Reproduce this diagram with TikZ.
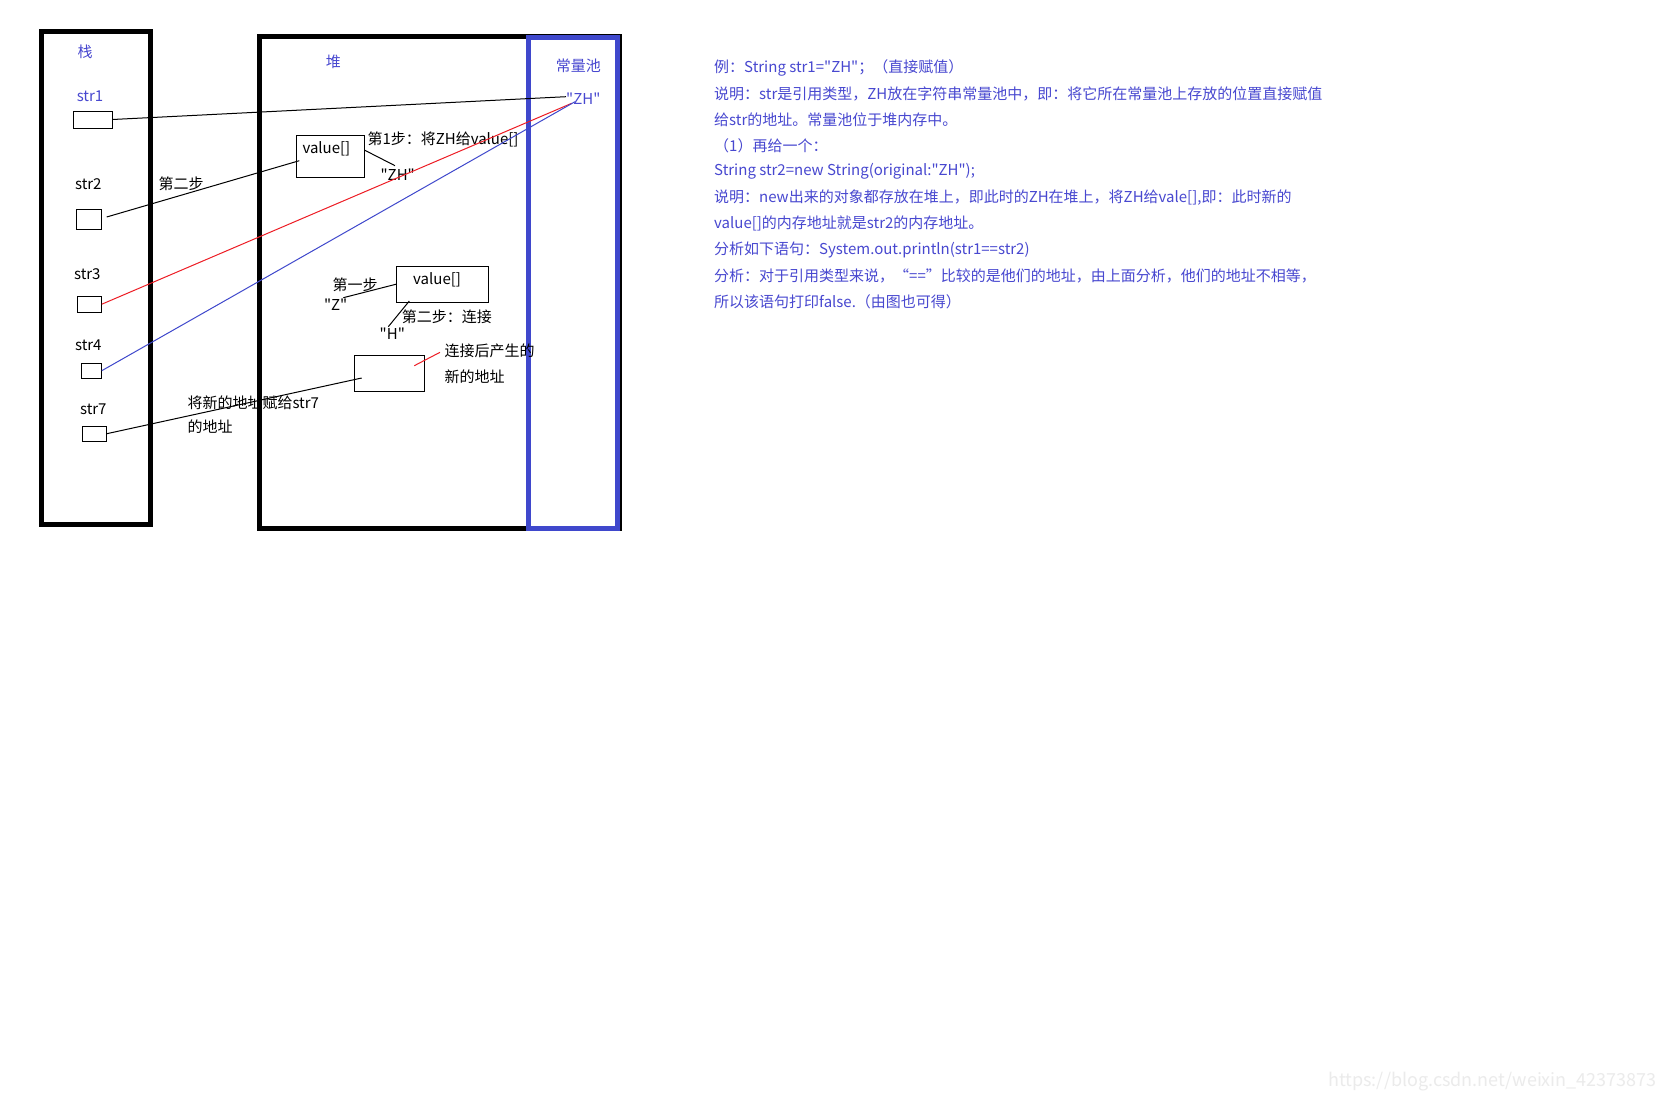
\documentclass[tikz,border=0pt]{standalone}
\usepackage{fontspec}
\setmainfont{Noto Sans CJK SC}[Ligatures=TeXOff]
\definecolor{poolblue}{RGB}{63,72,204}
\definecolor{txtblue}{RGB}{72,72,208}
\definecolor{pred}{RGB}{237,28,36}
\begin{document}
\begin{tikzpicture}[x=1pt,y=-1pt,
  lbl/.style={inner sep=0pt,font=\fontsize{15}{18}\selectfont},
  blbl/.style={lbl,text=txtblue},
  note/.style={inner sep=0pt,anchor=west,text=txtblue,font=\fontsize{15}{18}\selectfont},
  cell/.style={draw,line width=1pt,inner sep=0pt},
  thin/.style={line width=1pt},
  area/.style={draw,line width=5pt}]
\useasboundingbox[fill=white] (0,0) rectangle (1666,1100);
% big areas
\draw[area] (41.5,31.5) rectangle (150,524);
\draw[area] (259,36) rectangle (619,528);
\draw[area,poolblue] (528.5,37) rectangle (617.5,528.5);
% labels
\node[blbl] (zhan) at (85,52) {栈};
\node[blbl] (dui) at (333.3,61.7) {堆};
\node[blbl] (pool) at (578.3,65.7) {常量池};
\node[blbl] (zh) at (583.3,98.7) {"ZH"};
\node[blbl] (s1) at (90,96) {str1};
\node[lbl] (s2) at (88.3,184.3) {str2};
\node[lbl] (s3) at (87.3,274.3) {str3};
\node[lbl] (s4) at (88.3,345) {str4};
\node[lbl] (s7) at (93.3,409) {str7};
% stack cells
\node[cell,minimum width=39pt,minimum height=17pt] (b1) at (92.5,119.5) {};
\node[cell,minimum width=25pt,minimum height=20pt] (b2) at (88.8,219.3) {};
\node[cell,minimum width=24pt,minimum height=16pt] (b3) at (89.3,304.2) {};
\node[cell,minimum width=20pt,minimum height=15pt] (b4) at (91.3,370.7) {};
\node[cell,minimum width=24pt,minimum height=15pt] (b7) at (94.3,433.7) {};
% heap cells
\node[cell,minimum width=68pt,minimum height=42pt] (v1) at (330.2,156.3) {};
\node[lbl,anchor=west] (v1t) at (302.3,149.3) {value[]};
\node[cell,minimum width=92pt,minimum height=36pt] (v2) at (442.7,284.2) {};
\node[lbl,anchor=west] (v2t) at (413,280) {value[]};
\node[cell,minimum width=70pt,minimum height=36pt] (nb) at (389.3,373.3) {};
% heap texts
\node[lbl] (step2a) at (181,184) {第二步};
\node[lbl,anchor=west] (step1) at (367.3,139.3) {第1步：将ZH给value[]};
\node[lbl] (zhb) at (397.7,174.3) {"ZH"};
\node[lbl] (first) at (355,284.3) {第一步};
\node[lbl] (zq) at (335.7,304.3) {"Z"};
\node[lbl,anchor=west] (join) at (401.7,316.7) {第二步：连接};
\node[lbl] (hq) at (392.3,333.3) {"H"};
\node[lbl,anchor=west] (new1) at (444.3,350.7) {连接后产生的};
\node[lbl,anchor=west] (new2) at (444.3,376.7) {新的地址};
\node[lbl,anchor=west] (give1) at (187.3,402.3) {将新的地址赋给str7};
\node[lbl,anchor=west] (give2) at (187.3,426.7) {的地址};
% connector end points
\coordinate (zhL) at (566,96.7);
\coordinate (zhR) at (571.7,103.3);
\coordinate (zhB) at (575,101.7);
\coordinate (b2o) at (106.7,217);
\coordinate (v1in) at (299.3,160.7);
\coordinate (v1o) at (364.3,150);
\coordinate (zhbo) at (395,165.7);
\coordinate (zqo) at (343.3,297.7);
\coordinate (hqo) at (388.3,326.7);
\coordinate (v2b) at (409.3,301);
\coordinate (nbin) at (361.7,378);
\coordinate (nbr) at (414.3,365.7);
\coordinate (newo) at (440,352.3);
% connectors
\draw[thin] (b1.east) -- (zhL);
\draw[thin] (b2o) -- (v1in);
\draw[thin,pred] (b3.east) -- (zhR);
\draw[thin,poolblue] (b4.east) -- (zhB);
\draw[thin] (b7.east) -- (nbin);
\draw[thin] (v1o) -- (zhbo);
\draw[thin] (zqo) -- (v2.west);
\draw[thin] (hqo) -- (v2b);
\draw[thin,pred] (nbr) -- (newo);
% notes
\node[note] (n1) at (714,68.3) {例：String str1="ZH"；（直接赋值）};
\node[note] (n2) at (714,94) {说明：str是引用类型，ZH放在字符串常量池中，即：将它所在常量池上存放的位置直接赋值};
\node[note] (n3) at (714,120) {给str的地址。常量池位于堆内存中。};
\node[note] (n4) at (714,146) {（1）再给一个：};
\node[note] (n5) at (714,171.7) {String str2=new String(original:"ZH");};
\node[note] (n6) at (714,197.3) {说明：new出来的对象都存放在堆上，即此时的ZH在堆上，将ZH给vale[],即：此时新的};
\node[note] (n7) at (714,223.3) {value[]的内存地址就是str2的内存地址。};
\node[note] (n8) at (714,250) {分析如下语句：System.out.println(str1==str2)};
\node[note] (n9) at (714,276) {分析：对于引用类型来说，“==”比较的是他们的地址，由上面分析，他们的地址不相等，};
\node[note] (n10) at (714,301.7) {所以该语句打印false.（由图也可得）};
\node[inner sep=0pt,anchor=east,text=black!8,font=\fontsize{18}{20}\selectfont] (wm) at (1657,1081.7) {https://blog.csdn.net/weixin\_42373873};
\end{tikzpicture}
\end{document}
